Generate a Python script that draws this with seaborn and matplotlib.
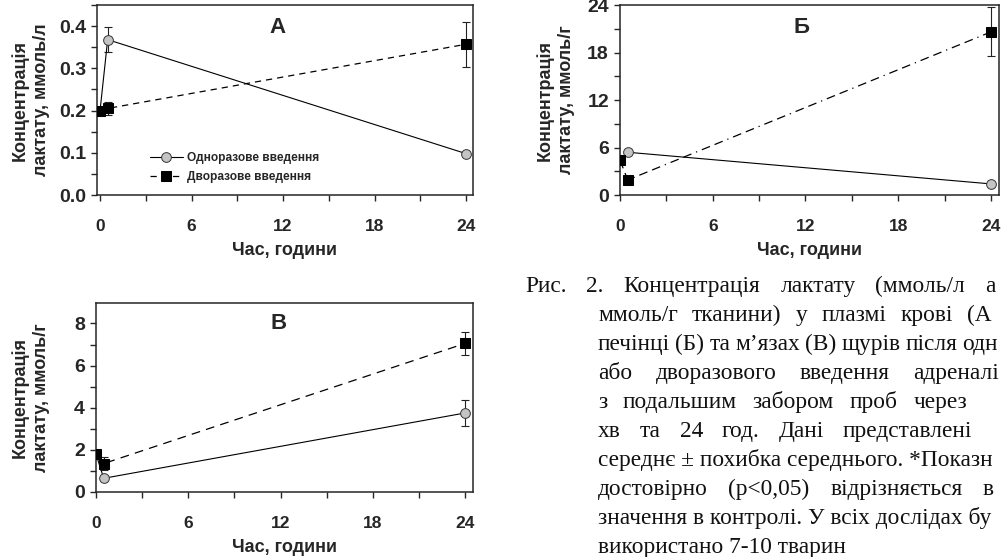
import matplotlib
matplotlib.use("Agg")
import matplotlib.pyplot as plt
import matplotlib.ticker as mticker
import pandas as pd
import seaborn as sns

# Час відбору проб, години
hours = [0, 0.5, 24]

# А - плазма крові, ммоль/л
a_single = [0.2, 0.368, 0.098]
a_single_err = [0, 0.03, 0.0]
a_double = [0.2, 0.205, 0.357]
a_double_err = [0, 0.015, 0.053]

# Б - печінка, ммоль/г
b_single = [4.4, 5.4, 1.4]
b_single_err = [0, 0.0, 0.0]
b_double = [4.4, 1.9, 20.6]
b_double_err = [0, 0.0, 3.1]

# В - м'язи, ммоль/г
v_single = [1.8, 0.65, 3.75]
v_single_err = [0, 0.0, 0.6]
v_double = [1.8, 1.35, 7.05]
v_double_err = [0, 0.3, 0.55]

series_labels = ["Одноразове введення", "Дворазове введення"]
x_label = "Час, години"
x_ticks = [0, 6, 12, 18, 24]

# Підпис до рисунка (видима частина, праве поле обрізане)
caption_lines = [
    ["Рис.", "2.", "Концентрація", "лактату", "(ммоль/л", "а"],
    ["ммоль/г", "тканини)", "у", "плазмі", "крові", "(А"],
    ["печінці", "(Б)", "та", "м’язах", "(В)", "щурів", "після", "одн"],
    ["або", "дворазового", "введення", "адреналі"],
    ["з", "подальшим", "забором", "проб", "через"],
    ["хв", "та", "24", "год.", "Дані", "представлені"],
    ["середнє ± похибка середнього. *Показн"],
    ["достовірно", "(p<0,05)", "відрізняється", "в"],
    ["значення в контролі. У всіх дослідах бу"],
    ["використано 7-10 тварин"],
]
# x початку першого слова і останнього слова (px); від'ємне - кінець рядка; None - без вирівнювання
caption_span = [
    (525, 985), (598, 967), (598, -998), (598, -999), (598, -967),
    (598, 843), (598, None), (598, 983), (598, None), (598, None),
]

W, H = 1001, 557
sns.set_style("ticks")
plt.rcParams["font.family"] = ["Liberation Sans", "DejaVu Sans"]
plt.rcParams["font.weight"] = "bold"

fig = plt.figure(figsize=(W / 100, H / 100), dpi=100)


def px_axes(left, top, right, bottom):
    return fig.add_axes([left / W, 1 - bottom / H, (right - left) / W, (bottom - top) / H])


def draw_panel(ax, single, s_err, double, d_err, dashes, ylim, yticks, minor_y, xlim,
               ylabel, ylabel_x, letter, letter_pos):
    df1 = pd.DataFrame({"t": hours, "c": single})
    df2 = pd.DataFrame({"t": hours, "c": double})

    sns.lineplot(data=df1, x="t", y="c", ax=ax, color="black", linewidth=0.8,
                 marker="o", markersize=7, markerfacecolor="#c4c4c4",
                 markeredgecolor="#333333", markeredgewidth=0.7,
                 label=series_labels[0], zorder=3)
    sns.lineplot(data=df2, x="t", y="c", ax=ax, color="black", linewidth=0.9,
                 marker="s", markersize=7, markerfacecolor="black",
                 markeredgecolor="black", label=series_labels[1], zorder=4)
    ax.lines[-1].set_dashes(dashes)

    for vals, errs in [(single, s_err), (double, d_err)]:
        xs = [t for t, e in zip(hours, errs) if e > 0]
        ys = [v for v, e in zip(vals, errs) if e > 0]
        es = [e for e in errs if e > 0]
        if xs:
            ax.errorbar(xs, ys, yerr=es, fmt="none", ecolor="#222222",
                        elinewidth=0.8, capsize=3.2, capthick=0.8, zorder=2)

    ax.set_xlim(*xlim)
    ax.set_ylim(*ylim)
    ax.set_xticks(x_ticks)
    ax.xaxis.set_minor_locator(mticker.MultipleLocator(3))
    ax.set_yticks(yticks)
    ax.yaxis.set_minor_locator(mticker.MultipleLocator(minor_y))
    for side in ["top", "right", "left", "bottom"]:
        ax.spines[side].set_visible(True)
        ax.spines[side].set_linewidth(1.1)
    ax.tick_params(axis="both", which="both", direction="out", length=4, width=1,
                   top=False, right=False)
    ax.tick_params(axis="x", which="major", pad=13, labelsize=12.5)
    ax.tick_params(axis="y", which="major", pad=4, labelsize=14)
    ax.set_xlabel(x_label, fontsize=13, fontweight="bold", labelpad=6)
    ax.set_ylabel(ylabel, fontsize=13, fontweight="bold", linespacing=1.35)
    ax.yaxis.set_label_coords(ylabel_x, 0.5)
    ax.text(letter_pos[0], letter_pos[1], letter, transform=ax.transAxes,
            ha="center", va="center", fontsize=16, fontweight="bold")


ax_a = px_axes(97, 5, 473, 195)
draw_panel(ax_a, a_single, a_single_err, a_double, a_double_err, (5, 4),
           (0, 0.45), [0.0, 0.1, 0.2, 0.3, 0.4], 0.05, (-0.2, 24.46),
           "Концентрація\nлактату, ммоль/л", -0.125, "А", (0.481, 0.884))
ax_a.yaxis.set_major_formatter(mticker.FormatStrFormatter("%.1f"))
leg = ax_a.legend(loc="upper left", bbox_to_anchor=(0.14, 0.225), frameon=False,
                  prop={"size": 8.6, "weight": "bold"}, handlelength=2.8,
                  handletextpad=0.3, labelspacing=0.6, borderpad=0, borderaxespad=0)

ax_b = px_axes(620, 5, 999, 195)
draw_panel(ax_b, b_single, b_single_err, b_double, b_double_err, (7, 4, 7, 4, 1, 4),
           (0, 24), [0, 6, 12, 18, 24], 3, (0, 24.52),
           "Концентрація\nлактату, ммоль/г", -0.119, "Б", (0.48, 0.884))
ax_b.get_legend().remove()

ax_v = px_axes(96, 303, 473, 492)
draw_panel(ax_v, v_single, v_single_err, v_double, v_double_err, (7, 5),
           (0, 8.97), [0, 2, 4, 6, 8], 1, (0, 24.52),
           "Концентрація\nлактату, ммоль/г", -0.122, "В", (0.483, 0.894))
ax_v.get_legend().remove()

# Підпис: слова з вирівнюванням по ширині
renderer = fig.canvas.get_renderer()
line_step = 29.0
for i, (words, (x0, x_last)) in enumerate(zip(caption_lines, caption_span)):
    y = 292 + i * line_step
    texts = [fig.text(0, 1 - y / H, w, ha="left", va="baseline",
                      family=["Liberation Serif", "DejaVu Serif"], fontweight="normal",
                      fontsize=16.8, color="#111111") for w in words]
    if x_last is None or len(words) == 1:
        texts[0].set_x(x0 / W)
        continue
    widths = [t.get_window_extent(renderer).width for t in texts]
    if x_last < 0:
        x_last = -x_last - widths[-1]
    gap = (x_last - x0 - sum(widths[:-1])) / (len(words) - 1)
    x = x0
    for t, w in zip(texts[:-1], widths[:-1]):
        t.set_x(x / W)
        x += w + gap
    texts[-1].set_x(x_last / W)

fig.savefig("out.png", dpi=100)
